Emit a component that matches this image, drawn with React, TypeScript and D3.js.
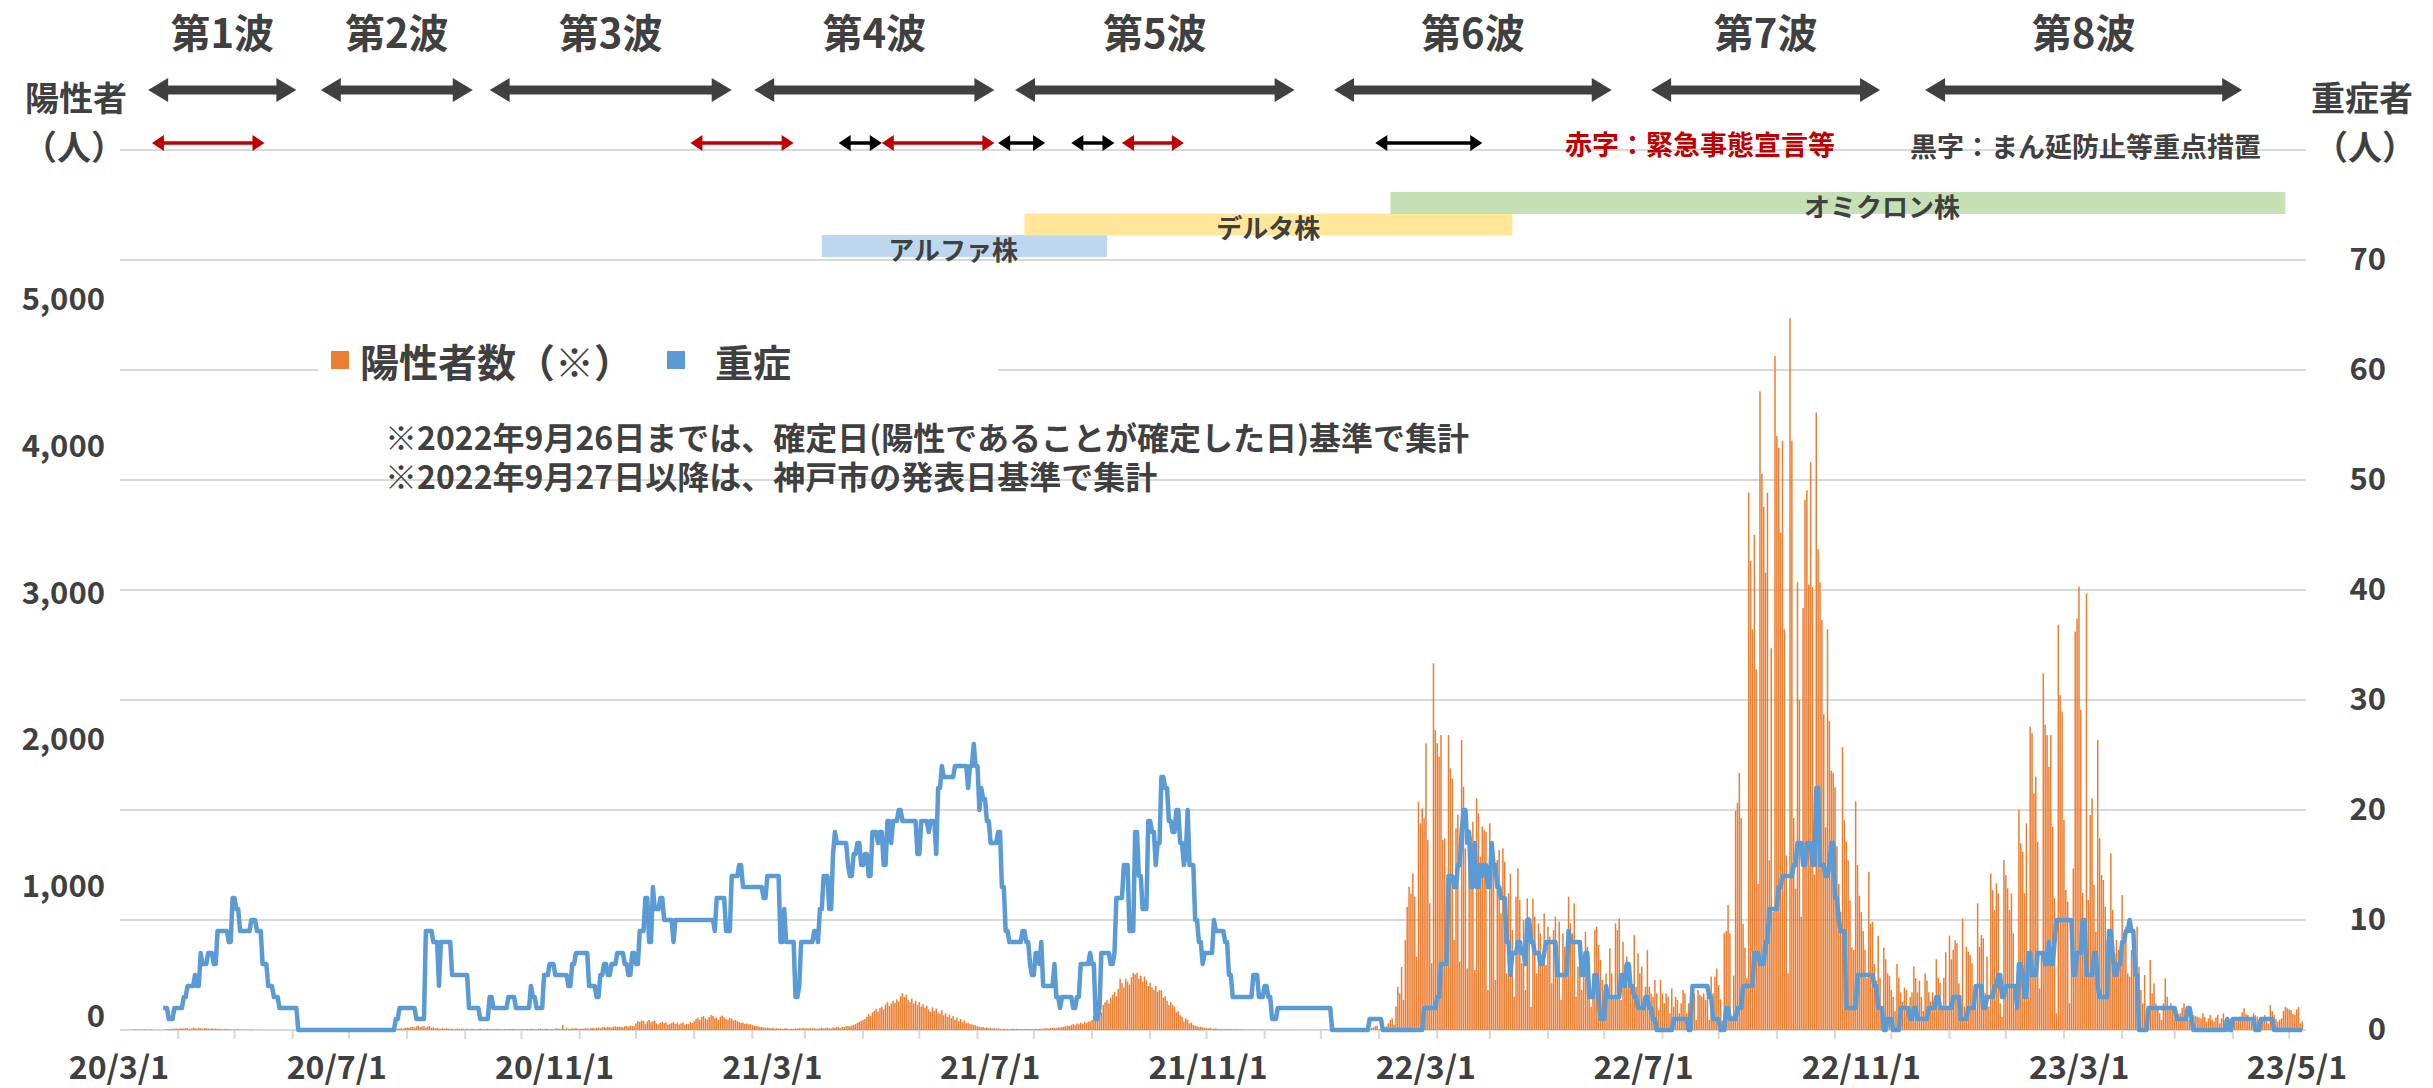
import React from 'react';
import * as d3 from 'd3';

const W = 2433;
const H = 1088;
const plot = { left: 120, right: 2306, top: 150, bottom: 1030 };

const FONT = "'Noto Sans CJK JP', 'Noto Sans', sans-serif";
const TEXT = '#404040';
const ORANGE = '#ED7D31';
const BLUE = '#5B9BD5';
const RED = '#C00000';
const GRID = '#D9D9D9';

const axisStart = '2020-03-01';
const axisEnd = '2023-05-10';

const xLabels = ['20/3/1', '20/7/1', '20/11/1', '21/3/1', '21/7/1', '21/11/1', '22/3/1', '22/7/1', '22/11/1', '23/3/1', '23/5/1'];
const leftTicks = [0, 1000, 2000, 3000, 4000, 5000];
const rightTicks = [0, 10, 20, 30, 40, 50, 60, 70];
const gridTicks = [10, 20, 30, 40, 50, 60, 70, 80];

// daily positives, each list starts at its own date
const wave1Start = '2020-03-01';
const wave1 = [
  0, 0, 0, 1, 0, 1, 0, 2, 3, 2, 4, 3, 2, 4, 3, 2, 5, 3, 0, 0, 1, 2, 0, 1, 4, 6, 5, 8, 6, 10, 9,
  8, 10, 12, 9, 14, 11, 7, 10, 15, 12, 9, 14, 11, 8, 13, 12, 10, 9, 11, 8, 10, 7, 9, 6, 5, 8, 6, 4, 5, 3,
  4, 3, 5, 2, 3, 1, 2, 2, 1, 3, 1, 0, 1, 0, 2, 1, 0, 1, 0, 0, 1,
];
const wave2Start = '2020-07-19';
const wave2 = [
  1, 2, 1, 3, 2, 4, 6, 5, 8, 10, 12, 9, 14,
  18, 15, 20, 22, 16, 25, 30, 19, 24, 28, 17, 21, 26, 15, 18, 12, 14, 10, 9, 11, 8, 12, 10, 7, 9, 6, 8, 10, 7, 9, 8,
  6, 8, 5, 9, 7, 6, 4, 8, 10, 6, 5, 7, 9, 6, 4, 7, 5, 8, 6, 5, 4, 7, 6, 5, 8, 6, 7, 5, 4, 6,
  5, 7, 6, 8, 5, 9, 7, 6, 4, 8, 10, 7, 6, 9, 8, 5, 7, 6, 9, 11, 8, 7, 34, 6, 12, 9, 8, 11, 10, 13, 9,
];
const wave3Start = '2020-11-01';
const wave3 = [
  8, 10, 9, 12, 11, 8, 13, 14, 10, 15, 16, 12, 18, 20, 15, 22, 19, 17, 23, 25, 20, 24, 22, 18, 26, 28, 23, 30, 27, 25,
  45, 60, 55, 65, 62, 40, 58, 68, 52, 60, 64, 45, 38, 50, 55, 48, 52, 35, 40, 48, 55, 42, 50, 38, 45, 52, 36, 42, 40, 55, 48,
  60, 75, 85, 70, 90, 95, 78, 72, 88, 102, 95, 80, 85, 70, 92, 98, 86, 75, 70, 82, 78, 65, 70, 60, 55, 48, 50, 42, 45, 38, 40,
  35, 30, 28, 25, 22, 20, 18, 15, 17, 14, 12, 15, 10, 12, 9, 11, 8, 10, 12, 9, 7, 10, 8, 11, 9, 12, 10, 14,
];
const wave4Start = '2021-03-01';
const wave4 = [
  10, 12, 9, 14, 11, 13, 10, 8, 12, 15, 11, 14, 16, 12, 10, 18, 15, 20, 17, 14, 22, 19, 25, 28, 24, 30, 35, 40, 48, 55, 62,
  68, 75, 90, 110, 95, 120, 130, 145, 125, 150, 160, 140, 175, 190, 165, 180, 200, 185, 210, 195, 230, 250, 225, 240, 205, 190, 215, 180, 200, 170,
  190, 160, 175, 150, 165, 140, 125, 155, 130, 145, 120, 110, 135, 100, 115, 90, 105, 80, 95, 70, 85, 60, 75, 55, 65, 45, 50, 40, 38, 34, 30,
  25, 22, 18, 20, 15, 17, 12, 14, 10, 13, 8, 11, 9, 7, 10, 6, 8, 5, 7, 9, 6, 8, 5, 7, 6, 5, 8, 6, 7, 5,
];
const wave5Start = '2021-07-01';
const wave5 = [
  6, 8, 7, 9, 10, 8, 12, 11, 9, 14, 13, 15, 12, 18, 16, 20, 22, 25, 30, 28, 35, 40, 32, 45, 38, 50, 42, 55, 48, 57, 60,
  70, 95, 110, 130, 150, 120, 170, 190, 205, 180, 220, 240, 260, 230, 280, 350, 320, 290, 350, 330, 310, 360, 390, 380, 390, 350, 370, 330, 364, 340, 300,
  320, 290, 273, 300, 260, 273, 270, 220, 230, 200, 170, 190, 170, 160, 120, 130, 100, 90, 57, 80, 70, 45, 50, 35, 30, 25, 20, 22, 18, 15,
];
const lullStart = '2021-10-01';
const lull = [
  12, 10, 14, 8, 9, 11, 7, 6, 8, 5, 7, 4, 6, 5, 3, 4, 5, 2, 4, 3, 2, 3, 1, 2, 3, 1, 2, 1, 2, 3, 1,
  1, 2, 1, 0, 2, 1, 1, 0, 1, 2, 0, 1, 1, 0, 1, 2, 1, 0, 1, 1, 0, 2, 1, 1, 0, 1, 2, 1, 0, 1,
  1, 0, 2, 1, 1, 2, 0, 1, 3, 2, 1, 2, 1, 3, 2, 4, 3, 2, 5, 3, 6, 8, 5, 9, 12, 10, 8, 15, 18, 25, 30,
];
const wave6Start = '2022-01-01';
const wave6 = [
  5, 8, 12, 20, 28,
  45, 68, 80, 35, 160, 295, 250, 430, 205, 614,
  840, 977, 930, 1068, 909, 500, 1557, 1409, 1511, 1443,
  1955, 1295, 864, 455, 2500, 2045, 1955, 1864, 2011, 1295,
  1307, 727, 2011, 1784, 1716, 614, 1375, 1466, 466, 1977,
  1659, 1239, 420, 1295, 1318, 1420, 409, 1580, 1477, 1182,
  1386, 1364, 1352, 273, 1409, 1284, 1205, 341, 1159, 1227,
  795, 1239, 1148, 386, 932, 1068, 682, 227, 909, 1102,
  886, 455, 750, 273, 898, 773, 159, 898, 773, 386,
  727, 659, 500, 795, 443, 705, 636, 318, 682, 773,
  545, 739, 205, 659, 568, 625, 909, 727, 659, 864,
  227, 432, 591, 273, 500, 670, 568, 455, 159, 386,
  682, 705, 580, 477, 341, 273, 386, 250, 557, 386,
  227, 727, 682, 761, 205, 602, 443, 500, 364, 443,
  273, 648, 295, 523, 386, 432, 182, 295, 545, 295,
  250, 227, 341, 250, 136, 341, 250, 182, 250, 227,
  114, 284, 159, 227, 205, 114, 182, 273, 250, 114,
  182, 68, 216, 250, 68, 273, 239, 227, 250, 205,
  227, 68, 364, 250, 364,
];
const wave7Start = '2022-06-30';
const wave7 = [
  418, 305, 209, 64, 659, 675, 852, 659, 96, 370,
  1494, 1549, 1752, 1446, 723, 562, 354, 3664, 3198, 2732,
  3375, 2459, 996, 4355, 3793, 3568, 3118, 3664, 1157, 2603,
  804, 4596, 4050, 3970, 3391, 4018, 2732, 1189, 386, 4853,
  4018, 1446, 964, 3053, 2250, 771, 2877, 3616, 3680, 3037,
  3873, 3021, 1061, 4210, 3278, 3053, 2796, 2153, 1382, 2732,
  2105, 1768, 1752, 1655, 1253, 996, 804, 1928, 1430, 1286,
  1157, 884, 562, 546, 1559, 1125, 916, 804, 675, 546,
  354, 1077, 723, 739, 450, 337, 643, 354, 161, 562,
  482, 386, 370, 273, 225, 129, 450, 354, 257, 193,
  289, 273, 112, 225, 257, 434, 354, 257, 337, 225,
  129, 386, 337, 257, 193, 257, 193, 482, 354, 321,
  161, 354, 530, 161, 643, 482, 546, 611,
];
const wave8Start = '2022-11-05';
const wave8 = [
  591, 318, 239, 761, 159, 568, 534, 511, 455, 250,
  148, 864, 568, 648, 625, 250, 500, 159, 1068, 955,
  818, 1000, 932, 182, 91, 1159, 1057, 966, 818, 932,
  659, 148, 364, 1500, 1273, 1216, 932, 1409, 227, 2068,
  2023, 1614, 1727, 1284, 284, 511, 2432, 2080, 2011, 1795,
  2011, 1386, 898, 114, 2762, 2284, 2170, 1432, 955, 875,
  182, 727, 1102, 2716, 2807, 3023, 2182, 935, 602, 2977,
  886, 1466, 1580, 989, 670, 1977, 1307, 1057, 1023, 841,
  614, 682, 1205, 818, 523, 614, 545, 477, 920, 602,
  705, 386, 364, 545, 455, 364, 705, 432, 273, 182,
  375, 136, 159, 477, 250, 318, 182, 150, 114, 68,
  182, 352, 227, 136, 182, 148, 68, 125, 110, 114,
  150, 182, 90, 68, 114, 100, 102, 95, 91, 85,
  80, 114, 90, 57, 80, 102, 70, 57, 85, 102,
  45, 80, 114, 70, 57, 75, 80, 68, 65, 57,
  75, 91, 120, 148, 110, 102, 70, 57, 114, 100,
  91, 70, 57, 90, 102, 60, 45, 170, 130, 102,
  75, 57, 70, 80, 130, 159, 148, 140, 136, 110,
  102, 140, 159, 45, 60,
];

// severe cases: [days since 2020-03-01, count] at each change
const severeSteps = [
  [23, 2], [26, 1], [29, 2], [34, 3], [36, 4], [40, 5], [41, 4], [43, 7], [44, 6], [47, 7], [50, 6], [52, 9], [58, 8],
  [60, 12], [62, 11], [64, 9], [70, 10], [73, 9], [76, 6], [79, 4], [82, 3], [85, 2], [95, 0], [147, 1], [149, 2],
  [158, 1], [163, 9], [167, 8], [170, 4], [171, 8], [177, 5], [186, 2], [192, 1], [197, 3], [199, 2], [207, 3],
  [211, 2], [219, 4], [220, 3], [222, 2], [226, 5], [229, 6], [232, 5], [239, 4], [241, 6], [243, 7], [250, 4],
  [254, 3], [256, 5], [258, 6], [260, 5], [262, 6], [265, 7], [269, 6], [271, 5], [273, 7], [275, 6], [277, 9],
  [280, 12], [282, 8], [284, 13], [285, 11], [288, 12], [290, 10], [295, 8], [296, 10], [317, 9], [318, 12],
  [323, 9], [326, 14], [330, 15], [332, 13], [343, 12], [345, 14], [352, 8], [354, 11], [355, 8], [360, 3],
  [362, 4], [363, 8], [370, 9], [372, 8], [373, 11], [375, 14], [378, 11], [380, 16], [381, 18], [382, 17],
  [388, 15], [389, 14], [391, 16], [393, 17], [395, 15], [397, 16], [399, 14], [401, 18], [404, 17], [405, 18],
  [407, 15], [409, 19], [411, 17], [412, 19], [415, 20], [417, 19], [425, 16], [427, 19], [431, 18], [432, 19],
  [435, 16], [436, 22], [438, 24], [439, 23], [445, 24], [452, 22], [453, 24], [455, 26], [456, 24], [458, 20],
  [459, 22], [460, 21], [462, 19], [464, 17], [468, 18], [470, 13], [472, 9], [474, 8], [481, 9], [483, 8],
  [485, 6], [486, 5], [488, 7], [490, 6], [491, 8], [492, 4], [498, 6], [499, 3], [501, 2], [502, 3], [508, 2],
  [510, 3], [512, 6], [517, 7], [518, 6], [520, 1], [522, 2], [523, 7], [528, 6], [530, 7], [531, 12], [535, 15],
  [538, 9], [541, 18], [543, 14], [545, 11], [548, 19], [550, 18], [552, 15], [553, 17], [555, 23], [557, 22],
  [559, 19], [561, 18], [563, 20], [565, 17], [567, 15], [568, 16], [569, 20], [570, 15], [573, 10], [575, 8],
  [577, 6], [578, 7], [583, 10], [584, 9], [589, 8], [591, 5], [593, 3], [604, 5], [607, 3], [610, 4], [612, 3],
  [614, 1], [617, 2], [646, 0], [666, 1], [673, 0], [695, 2], [702, 3], [704, 6], [708, 14], [711, 13], [713, 15],
  [715, 18], [716, 20], [718, 17], [719, 18], [720, 13], [722, 17], [723, 13], [725, 15], [726, 14], [727, 15],
  [729, 13], [731, 17], [732, 15], [734, 13], [736, 12], [739, 8], [741, 5], [742, 7], [745, 8], [747, 7],
  [749, 6], [750, 10], [752, 8], [754, 7], [757, 6], [759, 7], [760, 8], [766, 5], [772, 9], [773, 8], [779, 5],
  [781, 7], [783, 3], [786, 5], [788, 3], [789, 1], [792, 4], [793, 3], [800, 5], [802, 4], [803, 6], [805, 4],
  [807, 3], [809, 2], [813, 3], [815, 2], [817, 1], [819, 0], [828, 1], [836, 0], [838, 4], [847, 3], [849, 1],
  [853, 0], [856, 2], [858, 1], [862, 2], [865, 4], [871, 7], [874, 6], [877, 8], [879, 11], [884, 13], [886, 14],
  [892, 15], [894, 17], [897, 15], [899, 17], [902, 15], [904, 22], [906, 15], [909, 14], [911, 15], [912, 17],
  [914, 12], [916, 10], [917, 9], [920, 2], [926, 5], [935, 4], [937, 2], [940, 0], [942, 1], [945, 0], [949, 2],
  [954, 1], [956, 2], [958, 1], [964, 2], [968, 3], [970, 2], [977, 3], [981, 1], [985, 2], [989, 4], [993, 2],
  [995, 3], [999, 4], [1001, 5], [1003, 3], [1005, 4], [1011, 2], [1012, 6], [1014, 5], [1015, 3], [1017, 7],
  [1019, 5], [1022, 7], [1026, 6], [1028, 8], [1029, 6], [1031, 8], [1032, 10], [1041, 5], [1043, 7], [1046, 10],
  [1048, 5], [1052, 7], [1054, 4], [1055, 3], [1060, 9], [1062, 7], [1063, 5], [1065, 6], [1067, 8], [1069, 9],
  [1071, 10], [1072, 9], [1074, 5], [1076, 0], [1081, 2], [1096, 1], [1102, 2], [1104, 1], [1105, 0], [1123, 1],
  [1124, 0], [1126, 1], [1138, 0], [1141, 1], [1148, 0], [1163, 0],
];

// header: waves
const waveNames = ['第1波', '第2波', '第3波', '第4波', '第5波', '第6波', '第7波', '第8波'];
const waveFrom = ['2020-03-16', '2020-06-16', '2020-09-14', '2021-02-02', '2021-06-21', '2021-12-08', '2022-05-26', '2022-10-19'];
const waveTo = ['2020-06-03', '2020-09-05', '2021-01-21', '2021-06-10', '2021-11-17', '2022-05-05', '2022-09-25', '2023-04-06'];

// emergency (red) and priority measures (black)
const redFrom = ['2020-03-18', '2020-12-30', '2021-04-11', '2021-08-17'];
const redTo = ['2020-05-17', '2021-02-23', '2021-06-10', '2021-09-19'];
const blackFrom = ['2021-03-19', '2021-06-12', '2021-07-21', '2021-12-30'];
const blackTo = ['2021-04-11', '2021-07-07', '2021-08-13', '2022-02-25'];

// variants
const strainNames = ['アルファ株', 'デルタ株', 'オミクロン株'];
const strainFrom = ['2021-03-10', '2021-06-26', '2022-01-07'];
const strainTo = ['2021-08-09', '2022-03-13', '2023-04-29'];
const strainLabelAt = ['2021-05-19', '2021-11-03', '2022-09-26'];
const strainColors = ['#BDD7EE', '#FFE699', '#C5E0B4'];

const parse = d3.utcParse('%Y-%m-%d');

function buildDaily(segs) {
  const byDay = new Map();
  segs.forEach(([start, vals]) => {
    const d0 = parse(start);
    vals.forEach((v, i) => byDay.set(+d3.utcDay.offset(d0, i), v));
  });
  return Array.from(byDay, ([t, v]) => ({ date: new Date(t), v }));
}

function dblArrow(x1, x2, y, t, hl, hw) {
  return `M${x1},${y} L${x1 + hl},${y - hw} L${x1 + hl},${y - t / 2} L${x2 - hl},${y - t / 2} L${x2 - hl},${y - hw} L${x2},${y} L${x2 - hl},${y + hw} L${x2 - hl},${y + t / 2} L${x1 + hl},${y + t / 2} L${x1 + hl},${y + hw} Z`;
}

export default function App() {
  const x = d3.scaleUtc().domain([parse(axisStart), parse(axisEnd)]).range([plot.left, plot.right]);
  const yL = d3.scaleLinear().domain([0, 6000]).range([plot.bottom, plot.top]);
  const yR = d3.scaleLinear().domain([0, 80]).range([plot.bottom, plot.top]);
  const xLab = d3.scalePoint().domain(xLabels).range([119, 2297]);

  const positives = buildDaily([
    [wave1Start, wave1], [wave2Start, wave2], [wave3Start, wave3], [wave4Start, wave4],
    [wave5Start, wave5], [lullStart, lull], [wave6Start, wave6], [wave7Start, wave7], [wave8Start, wave8],
  ]);
  const d0 = parse(axisStart);
  // a daily line: each value is held up to the day before the next change
  const severe = severeSteps.flatMap(([day, v], i) => {
    const next = severeSteps[i + 1];
    const pts = [{ date: d3.utcDay.offset(d0, day), v }];
    if (next && next[0] - 1 > day) pts.push({ date: d3.utcDay.offset(d0, next[0] - 1), v });
    return pts;
  });
  const severeLine = d3.line().x(d => x(d.date)).y(d => yR(d.v));
  const months = d3.utcMonth.range(parse('2020-04-01'), parse('2023-05-02'));
  const bw = 1.5;

  const txt = { fontFamily: FONT, fontWeight: 700, fill: TEXT };

  return (
    <div style={{ position: 'absolute', left: 0, top: 0 }}>
      <svg width={W} height={H} style={{ display: 'block', background: '#fff' }}>
        {/* gridlines */}
        {gridTicks.map(t => (
          <line key={t} x1={plot.left} x2={plot.right} y1={yR(t)} y2={yR(t)} stroke={GRID} strokeWidth={2} />
        ))}
        <line x1={plot.left} x2={plot.right} y1={plot.bottom} y2={plot.bottom} stroke={GRID} strokeWidth={2} />
        {months.map(m => (
          <line key={+m} x1={x(m)} x2={x(m)} y1={plot.bottom} y2={plot.bottom + 9} stroke={GRID} strokeWidth={2} />
        ))}

        {/* bars */}
        <g fill={ORANGE}>
          {positives.filter(d => d.v > 0).map(d => (
            <rect key={+d.date} x={x(d.date) - bw / 2} width={bw} y={yL(d.v)} height={yL(0) - yL(d.v)} />
          ))}
        </g>

        {/* severe line */}
        <path d={severeLine(severe)} fill="none" stroke={BLUE} strokeWidth={4.5} strokeLinejoin="round" />

        {/* axes labels */}
        {leftTicks.map(t => (
          <text key={t} x={105} y={t === 0 ? yL(t) - 17 : yL(t)} textAnchor="end" dominantBaseline="central" fontSize={31} {...txt}>
            {d3.format(',')(t)}
          </text>
        ))}
        {rightTicks.map(t => (
          <text key={t} x={2386} y={yR(t) - 4} textAnchor="end" dominantBaseline="central" fontSize={31} {...txt}>
            {t}
          </text>
        ))}
        {xLabels.map(l => (
          <text key={l} x={xLab(l)} y={1065} textAnchor="middle" dominantBaseline="central" fontSize={32} {...txt}>
            {l}
          </text>
        ))}

        {/* axis titles */}
        <text x={76} y={96} textAnchor="middle" dominantBaseline="central" fontSize={34} {...txt}>陽性者</text>
        <text x={74} y={145} textAnchor="middle" dominantBaseline="central" fontSize={34} {...txt}>（人）</text>
        <text x={2362} y={96} textAnchor="middle" dominantBaseline="central" fontSize={34} {...txt}>重症者</text>
        <text x={2365} y={145} textAnchor="middle" dominantBaseline="central" fontSize={34} {...txt}>（人）</text>

        {/* waves */}
        {waveNames.map((n, i) => {
          const x1 = x(parse(waveFrom[i]));
          const x2 = x(parse(waveTo[i]));
          return (
            <g key={n}>
              <text x={(x1 + x2) / 2} y={31} textAnchor="middle" dominantBaseline="central" fontSize={40} {...txt}>{n}</text>
              <path d={dblArrow(x1, x2, 90, 9, 20, 12)} fill={TEXT} />
            </g>
          );
        })}

        {/* emergency arrows */}
        {redFrom.map((f, i) => (
          <path key={'r' + i} d={dblArrow(x(parse(f)), x(parse(redTo[i])), 143, 3.5, 12, 8)} fill={RED} />
        ))}
        {blackFrom.map((f, i) => (
          <path key={'b' + i} d={dblArrow(x(parse(f)), x(parse(blackTo[i])), 143, 3.5, 12, 8)} fill="#000" />
        ))}
        <text x={1565} y={143} dominantBaseline="central" fontSize={27} fontFamily={FONT} fontWeight={700} fill={RED}>赤字：緊急事態宣言等</text>
        <text x={1910} y={145} dominantBaseline="central" fontSize={27} {...txt}>黒字：まん延防止等重点措置</text>

        {/* variants */}
        {strainNames.map((n, i) => {
          const top = 235 - i * 21.5;
          return (
            <g key={n}>
              <rect x={x(parse(strainFrom[i]))} width={x(parse(strainTo[i])) - x(parse(strainFrom[i]))} y={top} height={22} fill={strainColors[i]} />
              <text x={x(parse(strainLabelAt[i]))} y={top + 13} textAnchor="middle" dominantBaseline="central" fontSize={26} {...txt}>{n}</text>
            </g>
          );
        })}

        {/* legend */}
        <rect x={318} y={330} width={680} height={62} fill="#fff" />
        <rect x={331} y={351} width={18} height={18} fill={ORANGE} />
        <text x={360} y={360} dominantBaseline="central" fontSize={39} {...txt}>陽性者数（※）</text>
        <rect x={667} y={351} width={18} height={18} fill={BLUE} />
        <text x={715} y={360} dominantBaseline="central" fontSize={38} {...txt}>重症</text>

        <text x={385} y={436} dominantBaseline="central" fontSize={32} {...txt}>※2022年9月26日までは、確定日(陽性であることが確定した日)基準で集計</text>
        <text x={385} y={475} dominantBaseline="central" fontSize={32} {...txt}>※2022年9月27日以降は、神戸市の発表日基準で集計</text>
      </svg>
    </div>
  );
}
